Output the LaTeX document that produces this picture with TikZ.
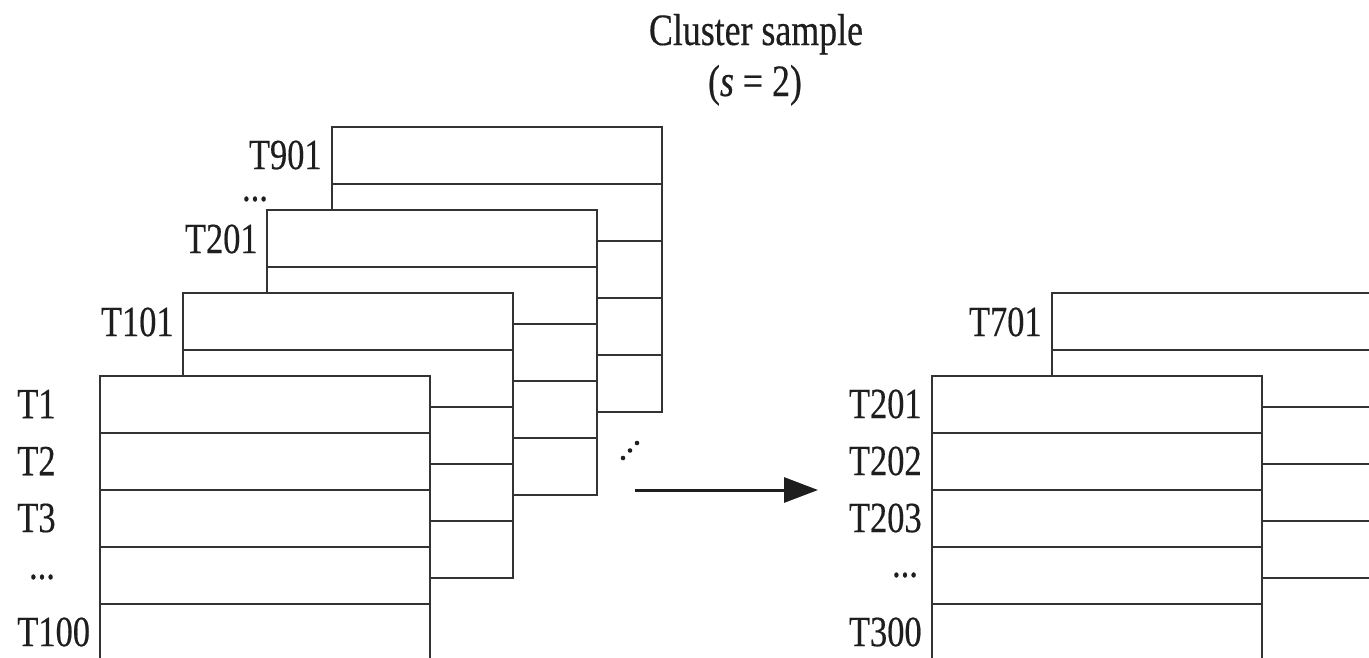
\documentclass[tikz,border=0pt]{standalone}
\usepackage{fontspec}
\setmainfont{Liberation Serif}[FakeStretch=0.8, FakeBold=0.4]
\usetikzlibrary{arrows.meta}
\definecolor{linegray}{HTML}{333333}
\definecolor{textgray}{HTML}{1E1E1E}
\newcommand{\rowdots}{...}

\begin{document}
\begin{tikzpicture}[x=0.02cm, y=-0.02cm,
    tablebox/.style={draw=linegray, line width=1.25pt, fill=white},
    rowline/.style={draw=linegray, line width=1.25pt},
    rowlabel/.style={font=\fontsize{24.5}{26}\selectfont, text=textgray, inner sep=0pt},
    titletext/.style={font=\fontsize{25.5}{27}\selectfont, text=textgray, inner sep=0pt, anchor=base}]
  \useasboundingbox (0,0) rectangle (1369,657);
  \clip (0,0) rectangle (1369,657);

  % tables, drawn from back to front
  \foreach \x/\y in {332/127, 267/210, 183/293, 100/376, 1052/293, 932/376}{
    \draw[tablebox] (\x,\y) rectangle ++(330,285);
    \foreach \r in {1,...,4}
      \draw[rowline] (\x,\y+57*\r) -- ++(330,0);
  }

  % title
  \node[titletext] (title) at (756,45) {Cluster sample};
  \node[titletext] (size) at (755,96) {(\textit{s} = 2)};

  % labels of the population
  \foreach \name/\txt [count=\i from 0] in {t1/T1, t2/T2, t3/T3}
    \node[rowlabel, anchor=west] (\name) at (17,404+57*\i) {\txt};
  \node[rowlabel] (tdots) at (42,577) {\rowdots};
  \node[rowlabel, anchor=west] (t100) at (17,632) {T100};
  \node[rowlabel, anchor=east] (t101) at (174,322) {T101};
  \node[rowlabel, anchor=east] (t201) at (258,239) {T201};
  \node[rowlabel] (backdots) at (255,199) {\rowdots};
  \node[rowlabel, anchor=east] (t901) at (322,155) {T901};
  % more tables behind
  \foreach \i in {0,1,2}
    \fill[textgray] (623+7*\i,458-7.5*\i) circle (2.3);

  % labels of the sample
  \foreach \name/\txt [count=\i from 0] in {s201/T201, s202/T202, s203/T203}
    \node[rowlabel, anchor=east] (\name) at (922,404+57*\i) {\txt};
  \node[rowlabel] (sdots) at (905,575) {\rowdots};
  \node[rowlabel, anchor=east] (s300) at (922,632) {T300};
  \node[rowlabel, anchor=east] (s701) at (1042,322) {T701};

  % arrow
  \coordinate (from) at (635,490);
  \coordinate (to) at (818,490);
  \draw[line width=1.7pt, draw=textgray, -{Triangle[length=0.68cm, width=0.5cm]}] (from) -- (to);
\end{tikzpicture}
\end{document}
